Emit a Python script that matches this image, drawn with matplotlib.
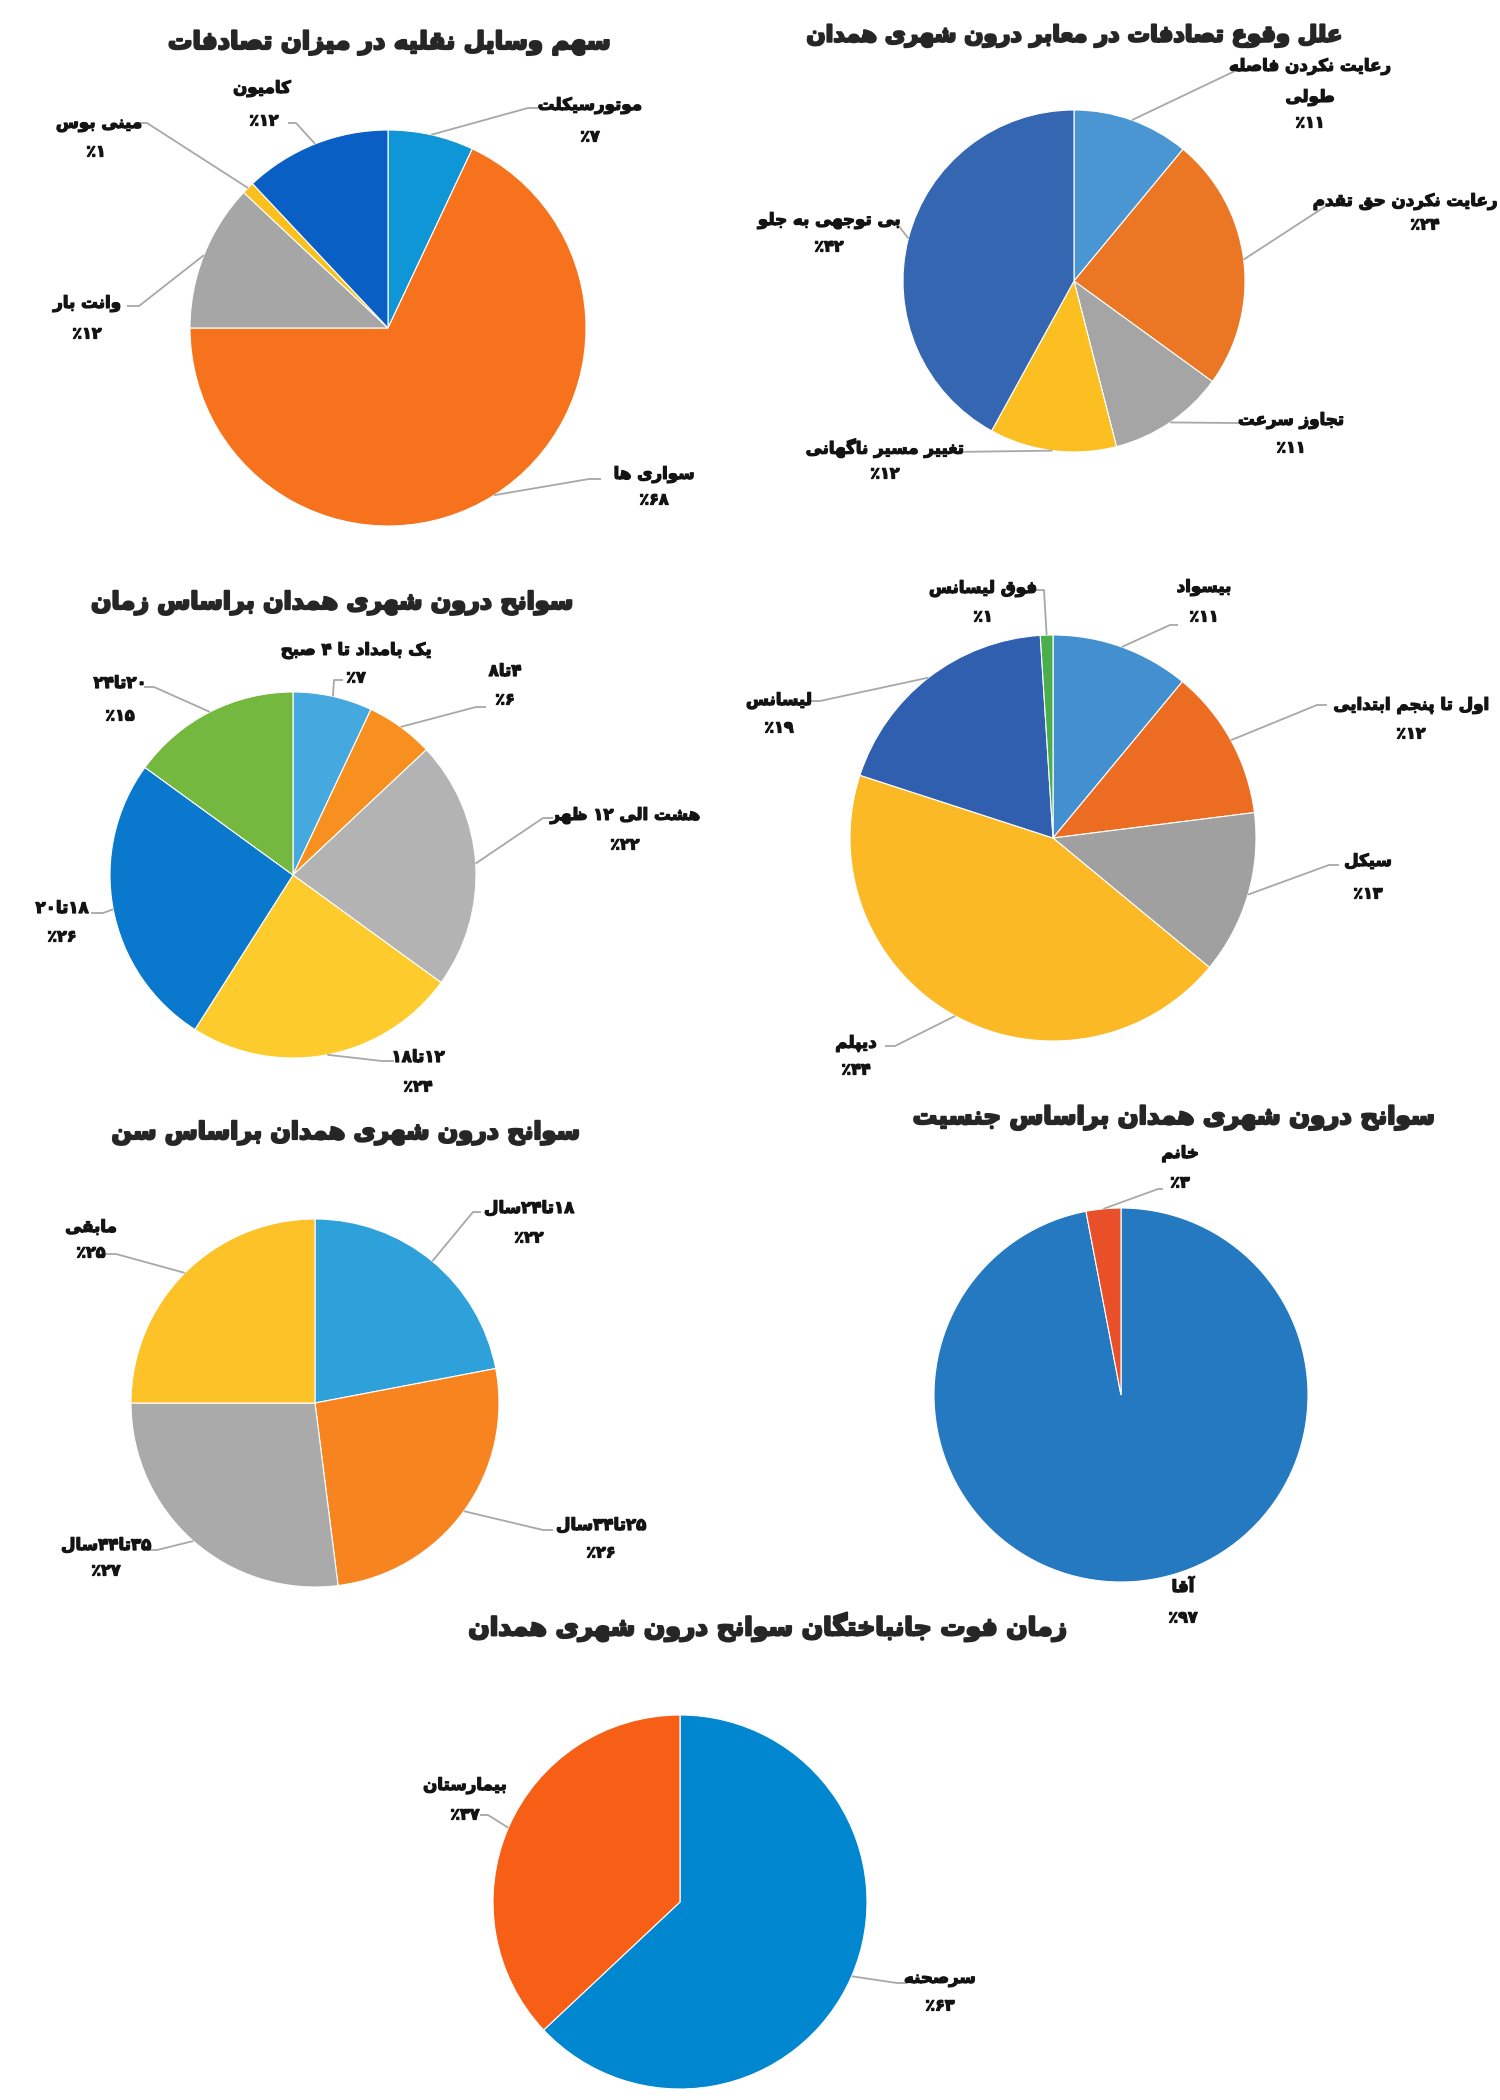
import matplotlib
matplotlib.use("Agg")
import matplotlib.pyplot as plt
import matplotlib.patheffects as pe
import numpy as np

# ---------------- data ----------------
veh_title = "سهم وسایل نقلیه در میزان تصادفات"
veh_labels = ["موتورسیکلت", "سواری ها", "وانت بار", "مینی بوس", "کامیون"]
veh_values = [7, 68, 12, 1, 12]

cause_title = "علل وقوع تصادفات در معابر درون شهری همدان"
cause_labels = ["رعایت نکردن فاصله\nطولی", "رعایت نکردن حق تقدم", "تجاوز سرعت",
                "تغییر مسیر ناگهانی", "بی توجهی به جلو"]
cause_values = [11, 24, 11, 12, 42]

time_title = "سوانح درون شهری همدان براساس زمان"
time_labels = ["یک بامداد تا ۴ صبح", "۴تا۸", "هشت الی ۱۲ ظهر", "۱۲تا۱۸", "۱۸تا۲۰", "۲۰تا۲۴"]
time_values = [7, 6, 22, 24, 26, 15]

edu_labels = ["بیسواد", "اول تا پنجم ابتدایی", "سیکل", "دیپلم", "لیسانس", "فوق لیسانس"]
edu_values = [11, 12, 13, 44, 19, 1]

age_title = "سوانح درون شهری همدان براساس سن"
age_labels = ["۱۸تا۲۴سال", "۲۵تا۳۴سال", "۳۵تا۴۴سال", "مابقی"]
age_values = [22, 26, 27, 25]

sex_title = "سوانح درون شهری همدان براساس جنسیت"
sex_labels = ["آقا", "خانم"]
sex_values = [97, 3]

death_title = "زمان فوت جانباختگان سوانح درون شهری همدان"
death_labels = ["سرصحنه", "بیمارستان"]
death_values = [63, 37]

# ---------------- styles ----------------
veh_colors = ["#0E96D6", "#F7721C", "#A6A6A6", "#F9C01E", "#0A5FC5"]
cause_colors = ["#4A96D3", "#EB7624", "#A5A5A5", "#FBBF21", "#3566B1"]
time_colors = ["#45A8DF", "#F7901E", "#B3B3B3", "#FDCB2B", "#0A78CC", "#74B83F"]
edu_colors = ["#4290D0", "#EC6D22", "#A0A0A0", "#FBB925", "#2F5FAE", "#4AAE4A"]
age_colors = ["#2EA0DA", "#F7841E", "#AAAAAA", "#FDC228"]
sex_colors = ["#2479C1", "#E9502A"]
death_colors = ["#0087D0", "#F85F16"]

# ---------------- Persian shaping (presentation forms) ----------------
FORMS = {
    "\u0627": ("\uFE8D", "\uFE8E", None, None),
    "\u0622": ("\uFE81", "\uFE82", None, None),
    "\u0628": ("\uFE8F", "\uFE90", "\uFE91", "\uFE92"),
    "\u067E": ("\uFB56", "\uFB57", "\uFB58", "\uFB59"),
    "\u062A": ("\uFE95", "\uFE96", "\uFE97", "\uFE98"),
    "\u062B": ("\uFE99", "\uFE9A", "\uFE9B", "\uFE9C"),
    "\u062C": ("\uFE9D", "\uFE9E", "\uFE9F", "\uFEA0"),
    "\u0686": ("\uFB7A", "\uFB7B", "\uFB7C", "\uFB7D"),
    "\u062D": ("\uFEA1", "\uFEA2", "\uFEA3", "\uFEA4"),
    "\u062E": ("\uFEA5", "\uFEA6", "\uFEA7", "\uFEA8"),
    "\u062F": ("\uFEA9", "\uFEAA", None, None),
    "\u0630": ("\uFEAB", "\uFEAC", None, None),
    "\u0631": ("\uFEAD", "\uFEAE", None, None),
    "\u0632": ("\uFEAF", "\uFEB0", None, None),
    "\u0698": ("\uFB8A", "\uFB8B", None, None),
    "\u0633": ("\uFEB1", "\uFEB2", "\uFEB3", "\uFEB4"),
    "\u0634": ("\uFEB5", "\uFEB6", "\uFEB7", "\uFEB8"),
    "\u0635": ("\uFEB9", "\uFEBA", "\uFEBB", "\uFEBC"),
    "\u0636": ("\uFEBD", "\uFEBE", "\uFEBF", "\uFEC0"),
    "\u0637": ("\uFEC1", "\uFEC2", "\uFEC3", "\uFEC4"),
    "\u0638": ("\uFEC5", "\uFEC6", "\uFEC7", "\uFEC8"),
    "\u0639": ("\uFEC9", "\uFECA", "\uFECB", "\uFECC"),
    "\u063A": ("\uFECD", "\uFECE", "\uFECF", "\uFED0"),
    "\u0641": ("\uFED1", "\uFED2", "\uFED3", "\uFED4"),
    "\u0642": ("\uFED5", "\uFED6", "\uFED7", "\uFED8"),
    "\u06A9": ("\uFB8E", "\uFB8F", "\uFB90", "\uFB91"),
    "\u06AF": ("\uFB92", "\uFB93", "\uFB94", "\uFB95"),
    "\u0644": ("\uFEDD", "\uFEDE", "\uFEDF", "\uFEE0"),
    "\u0645": ("\uFEE1", "\uFEE2", "\uFEE3", "\uFEE4"),
    "\u0646": ("\uFEE5", "\uFEE6", "\uFEE7", "\uFEE8"),
    "\u0648": ("\uFEED", "\uFEEE", None, None),
    "\u0647": ("\uFEE9", "\uFEEA", "\uFEEB", "\uFEEC"),
    "\u06CC": ("\uFBFC", "\uFBFD", "\uFBFE", "\uFBFF"),
    "\u064A": ("\uFEF1", "\uFEF2", "\uFEF3", "\uFEF4"),
}
LAM_ALEF = {"\u0627": ("\uFEFB", "\uFEFC"), "\u0622": ("\uFEF5", "\uFEF6")}
DIGITS = set("0123456789۰۱۲۳۴۵۶۷۸۹")


def shape(s):
    out, i, n = [], 0, len(s)
    while i < n:
        c = s[i]
        if c not in FORMS:
            out.append(c)
            i += 1
            continue
        prev = i > 0 and s[i - 1] in FORMS and FORMS[s[i - 1]][2] is not None
        if c == "\u0644" and i + 1 < n and s[i + 1] in LAM_ALEF:
            lig = LAM_ALEF[s[i + 1]]
            out.append(lig[1] if prev else lig[0])
            i += 2
            continue
        nxt = i + 1 < n and s[i + 1] in FORMS
        iso, fin, ini, med = FORMS[c]
        if ini is None:
            out.append(fin if prev else iso)
        elif prev and nxt:
            out.append(med)
        elif prev:
            out.append(fin)
        elif nxt:
            out.append(ini)
        else:
            out.append(iso)
        i += 1
    return "".join(out)


def rtl(s):
    shaped = shape(s)
    runs = []
    for ch in shaped:
        d = ch in DIGITS
        if runs and runs[-1][0] == d:
            runs[-1][1].append(ch)
        else:
            runs.append([d, [ch]])
    res = []
    for d, chars in reversed(runs):
        res.append("".join(chars) if d else "".join(reversed(chars)))
    return "".join(res)


def fa(n):
    return str(n).translate(str.maketrans("0123456789", "۰۱۲۳۴۵۶۷۸۹"))


# ---------------- figure ----------------
W, H = 1500, 2100
fig = plt.figure(figsize=(15, 21), dpi=100)
fig.patch.set_facecolor("white")
FONT = "DejaVu Sans"
TXT = "#141414"
LEAD = "#A8A8A8"
LAB_FX = [pe.withStroke(linewidth=0.9, foreground=TXT)]
TTL_FX = [pe.withStroke(linewidth=1.6, foreground="#262626")]

overlay = fig.add_axes([0, 0, 1, 1], zorder=5)
overlay.set_xlim(0, W)
overlay.set_ylim(H, 0)
overlay.axis("off")

titles_to_fit = []
label_texts = []


def draw_chart(values, labels, colors, center, radius, layout, title=None, title_pos=None,
               title_width=None):
    cx, cy = center
    ax = fig.add_axes([(cx - radius) / W, 1 - (cy + radius) / H, 2 * radius / W, 2 * radius / H])
    wedges, _ = ax.pie(values, colors=colors, startangle=90, counterclock=False, radius=1,
                       wedgeprops=dict(edgecolor="white", linewidth=0.8))
    ax.set_xlim(-1, 1)
    ax.set_ylim(-1, 1)
    ax.set_aspect("auto")
    ax.axis("off")
    for w, lab, val, lay in zip(wedges, labels, values, layout):
        name_xy, pct_xy, lead, stub = lay
        for k, ln in enumerate(lab.split("\n")):
            t = overlay.text(name_xy[0], name_xy[1] + 31 * k, rtl(ln), ha="center", va="center",
                             fontsize=12, fontweight="bold", color=TXT, family=FONT,
                             path_effects=LAB_FX)
            label_texts.append(t)
        t = overlay.text(pct_xy[0], pct_xy[1], rtl(fa(val) + "٪"), ha="center", va="center",
                         fontsize=11.5, fontweight="bold", color=TXT, family=FONT,
                         path_effects=LAB_FX)
        label_texts.append(t)
        if lead is not None:
            th = np.deg2rad((w.theta1 + w.theta2) / 2)
            ex, ey = cx + radius * np.cos(th), cy - radius * np.sin(th)
            sx, sy = lead
            overlay.plot([sx, sx + stub, ex], [sy, sy, ey], color=LEAD, lw=1.3,
                         solid_capstyle="butt")
    if title:
        t = overlay.text(title_pos[0], title_pos[1], rtl(title), ha="center", va="center",
                         fontsize=22, fontweight="bold", color="#262626", family=FONT,
                         path_effects=TTL_FX)
        titles_to_fit.append((t, title_width))


draw_chart(veh_values, veh_labels, veh_colors, (388, 328), 198,
           [((590, 105), (590, 137), (538, 108), -10),
            ((654, 474), (654, 500), (601, 479), -12),
            ((87, 303), (87, 334), (127, 306), 12),
            ((99, 123), (96, 152), (137, 123), 10),
            ((262, 88), (264, 121), (288, 123), 8)],
           veh_title, (389, 43), 395)

draw_chart(cause_values, cause_labels, cause_colors, (1074, 281), 171,
           [((1310, 66), (1310, 123), (1245, 71), -10),
            ((1423, 201), (1425, 225), (1339, 204), -10),
            ((1291, 420), (1291, 448), (1245, 423), -10),
            ((885, 448), (885, 474), (942, 452), 10),
            ((829, 220), (829, 247), (887, 221), 8)],
           cause_title, (1074, 36), 478)

draw_chart(time_values, time_labels, time_colors, (293, 875), 183,
           [((356, 650), (356, 678), (343, 680), -9),
            ((505, 671), (505, 700), (486, 707), -10),
            ((625, 815), (625, 845), (553, 818), -10),
            ((418, 1057), (418, 1087), (394, 1061), -12),
            ((62, 908), (62, 937), (91, 913), 12),
            ((120, 683), (120, 716), (144, 687), 10)],
           time_title, (332, 603), 430)

draw_chart(edu_values, edu_labels, edu_colors, (1053, 838), 203,
           [((1204, 587), (1204, 617), (1178, 625), -8),
            ((1411, 705), (1411, 734), (1327, 705), -10),
            ((1368, 861), (1368, 894), (1339, 865), -10),
            ((856, 1043), (856, 1070), (885, 1046), 10),
            ((779, 700), (779, 728), (808, 701), 12),
            ((983, 588), (983, 617), (1031, 590), 13)])

draw_chart(age_values, age_labels, age_colors, (315, 1403), 184,
           [((529, 1208), (529, 1238), (481, 1212), -8),
            ((601, 1525), (601, 1553), (553, 1530), -10),
            ((106, 1545), (106, 1571), (149, 1550), 8),
            ((91, 1227), (91, 1253), (106, 1254), 10)],
           age_title, (346, 1133), 418)

draw_chart(sex_values, sex_labels, sex_colors, (1121, 1395), 187,
           [((1183, 1587), (1183, 1618), None, 0),
            ((1180, 1153), (1180, 1183), (1163, 1189), -5)],
           sex_title, (1173, 1118), 466)

draw_chart(death_values, death_labels, death_colors, (680, 1902), 187,
           [((940, 1978), (940, 2006), (907, 1983), -10),
            ((465, 1785), (465, 1815), (480, 1815), 8)],
           death_title, (768, 1627), 534)

# fit title sizes, keep labels inside the canvas
fig.canvas.draw()
r = fig.canvas.get_renderer()
for t, tw in titles_to_fit:
    bw = t.get_window_extent(r).width
    t.set_fontsize(t.get_fontsize() * tw / bw * 1.12)
for t in label_texts:
    bb = t.get_window_extent(r)
    x, y = t.get_position()
    if bb.x1 > W - 3:
        t.set_position((x - (bb.x1 - (W - 3)), y))
    elif bb.x0 < 3:
        t.set_position((x + (3 - bb.x0), y))

fig.savefig("out.png", dpi=100, facecolor="white")
